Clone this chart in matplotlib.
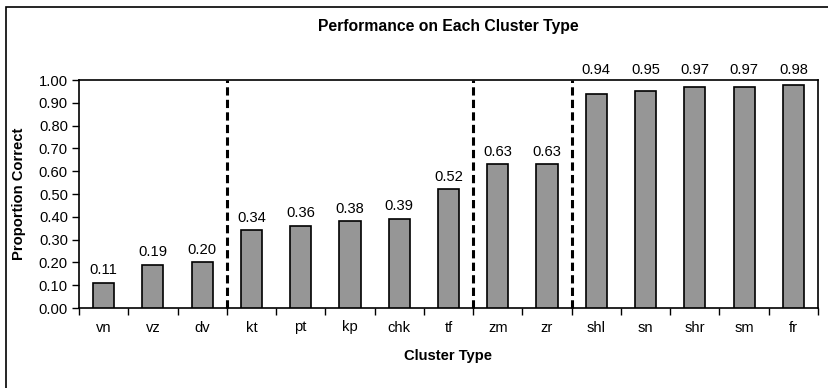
import matplotlib
matplotlib.use("Agg")
import matplotlib.pyplot as plt
from matplotlib.patches import Rectangle
import numpy as np

plt.rcParams['font.family'] = ['Liberation Sans', 'DejaVu Sans']

categories = ["vn", "vz", "dv", "kt", "pt", "kp", "chk", "tf", "zm", "zr",
              "shl", "sn", "shr", "sm", "fr"]
values = [0.11, 0.19, 0.20, 0.34, 0.36, 0.38, 0.39, 0.52, 0.63, 0.63,
          0.94, 0.95, 0.97, 0.97, 0.98]
group_breaks = [3, 8, 10]  # dashed lines before these category indices
yticks = [0.0, 0.1, 0.2, 0.3, 0.4, 0.5, 0.6, 0.7, 0.8, 0.9, 1.0]

W, H = 829, 388
fig = plt.figure(figsize=(W / 100, H / 100), dpi=100)
ax = fig.add_axes([79 / W, 1 - 308 / H, (818 - 79) / W, (308 - 80) / H])

FS = 10.6
x = np.arange(len(categories))
ax.bar(x, values, width=0.43, color="#969696", edgecolor="black", linewidth=1.2, zorder=3)
for xi, v in zip(x, values):
    ypos = v + 0.025
    if ypos + 0.06 > 1.0:
        ypos = 1.013
    ax.text(xi, ypos, f"{v:.2f}", ha="center", va="bottom", fontsize=FS, zorder=4,
            clip_on=False)

for b in group_breaks:
    ax.plot([b - 0.5, b - 0.5], [0, 1.0], color="black", linestyle=(0, (2.7, 1.4)),
            linewidth=2.2, zorder=5, clip_on=False)

ax.set_xlim(-0.5, len(categories) - 0.5)
ax.set_ylim(0, 1.0)
ax.set_yticks(yticks)
ax.set_yticklabels([f"{t:.2f}" for t in yticks], fontsize=FS)
ax.set_xticks(np.arange(len(categories) + 1) - 0.5, minor=False)
ax.set_xticklabels([])
ax.set_xticks(x, minor=True)
ax.set_xticklabels(categories, minor=True, fontsize=FS)
ax.tick_params(axis="x", which="major", direction="out", length=5, width=1)
ax.tick_params(axis="x", which="minor", length=0, pad=9)
ax.tick_params(axis="y", direction="out", length=5, width=1, pad=3)
for s in ax.spines.values():
    s.set_linewidth(1.2)

ax.set_ylabel("Proportion Correct", fontsize=FS, fontweight="bold")
ax.yaxis.set_label_coords((19.5 - 79) / (818 - 79), 0.5)
ax.set_xlabel("Cluster Type", fontsize=FS, fontweight="bold")
ax.xaxis.set_label_coords(0.5, -(356 - 308) / (308 - 80))
ax.xaxis.label.set_va("center")
ax.yaxis.label.set_va("center")
fig.text(448 / W, 1 - 27 / H, "Performance on Each Cluster Type", ha="center", va="center",
         fontsize=11.3, fontweight="bold")

fig.patches.append(Rectangle((6 / W, -0.05), 1.1, 1 - 7 / H + 0.05, transform=fig.transFigure,
                             fill=False, edgecolor="black", linewidth=1.2))

fig.savefig("out.png", dpi=100)
